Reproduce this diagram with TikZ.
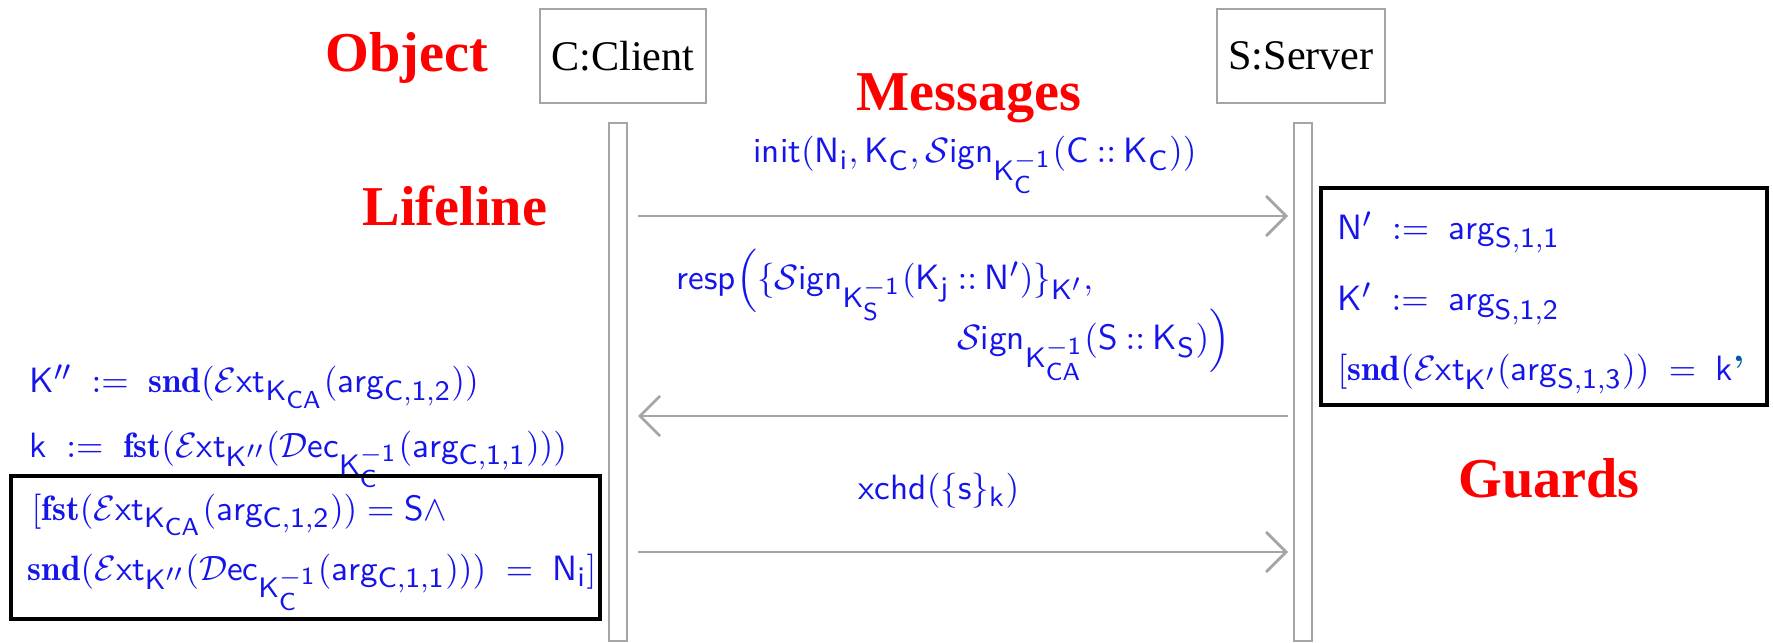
\documentclass[tikz,border=0pt]{standalone}
\usepackage{fontspec}
\usetikzlibrary{arrows.meta}
\newfontfamily\tms{Liberation Serif}
\DeclareMathSizes{10}{10}{8}{7}
\definecolor{linegray}{RGB}{165,165,165}
\definecolor{msgblue}{RGB}{20,20,235}
\definecolor{quoteblue}{RGB}{0,90,180}
\newcommand{\Sgn}{\mathcal{S}\mathsf{ign}}
\newcommand{\Ext}{\mathcal{E}\mathsf{xt}}
\newcommand{\Dec}{\mathcal{D}\mathsf{ec}}
\newcommand{\asgn}{\mathrel{\;{:}{=}\;}}
\newcommand{\dcol}{\mathbin{{:}{:}}}
\tikzset{
  tag/.style={text=red,font=\tms\bfseries\fontsize{16}{19}\selectfont,anchor=base},
  object/.style={draw=linegray,line width=0.6pt,minimum width=1.61cm,minimum height=0.94cm,
    font=\tms\fontsize{12}{14}\selectfont},
  lifeline/.style={draw=linegray,line width=0.6pt,minimum width=0.18cm,minimum height=5.17cm,inner sep=0pt},
  msg/.style={linegray,line width=0.8pt,-{Straight Barb[length=2mm,width=4mm]}},
  term/.style={text=msgblue,font=\fontsize{10}{12}\selectfont,inner sep=0pt},
  guard/.style={draw,line width=1pt},
}
\begin{document}
\begin{tikzpicture}[x=0.01cm,y=-0.01cm]
\useasboundingbox (0,0) rectangle (1773,643);
% objects with their lifelines
\node[object] (client) at (623,56) {C:Client};
\node[object] (server) at (1301,56) {S:Server};
\node[lifeline] (cbar) at (618,382) {};
\node[lifeline] (sbar) at (1303,382) {};

% captions
\node[tag] (tobj) at (407,72) {Object};
\node[tag] (tmsg) at (969,111) {Messages};
\node[tag] (tlife) at (455,226) {Lifeline};
\node[tag] (tguard) at (1549,497) {Guards};

% messages
\coordinate (m1a) at (638,216);
\coordinate (m1b) at (1288,216);
\coordinate (m2a) at (1288,416);
\coordinate (m2b) at (638,416);
\coordinate (m3a) at (638,552);
\coordinate (m3b) at (1288,552);
\draw[msg] (m1a) -- (m1b);
\draw[msg] (m2a) -- (m2b);
\draw[msg] (m3a) -- (m3b);

\node[term,anchor=base] (init) at (975,163)
  {$\mathsf{init(N_i,K_C,\Sgn_{K_C^{-1}}(C\dcol K_C))}$};
\node[term,anchor=base west] (resp1) at (676,290)
  {$\mathsf{resp\Bigl(\{\Sgn_{K_S^{-1}}(K_j\dcol N')\}_{K'},}$};
\node[term,anchor=base east] (resp2) at (1231,350)
  {$\mathsf{\Sgn_{K_{CA}^{-1}}(S\dcol K_S)\Bigr)}$};
\node[term,anchor=base] (xchd) at (939,499) {$\mathsf{xchd(\{s\}_k)}$};

% guards of the server
\draw[guard] (1321,188) rectangle (1767,405);
\node[term,anchor=base west] (sg1) at (1337,240) {$\mathsf{N'\asgn arg_{S,1,1}}$};
\node[term,anchor=base west] (sg2) at (1337,311) {$\mathsf{K'\asgn arg_{S,1,2}}$};
\node[term,anchor=base west] (sg3) at (1337,380)
  {$\mathsf{[\mathbf{snd}(\Ext_{K'}(arg_{S,1,3}))\;=\;k}${\color{quoteblue}\bfseries ’}};

% guards of the client
\node[term,anchor=base west] (cg1) at (29,393)
  {$\mathsf{K''\asgn\mathbf{snd}(\Ext_{K_{CA}}(arg_{C,1,2}))}$};
\node[term,anchor=base west] (cg2) at (29,457)
  {$\mathsf{k\asgn\mathbf{fst}(\Ext_{K''}(\Dec_{K_C^{-1}}(arg_{C,1,1})))}$};
\draw[guard] (11,476) rectangle (600,619);
\node[term,anchor=base west] (cg3) at (31,520)
  {$\mathsf{[\mathbf{fst}(\Ext_{K_{CA}}(arg_{C,1,2}))=S\wedge}$};
\node[term,anchor=base west] (cg4) at (27,580)
  {$\mathsf{\mathbf{snd}(\Ext_{K''}(\Dec_{K_C^{-1}}(arg_{C,1,1})))\;=\;N_i]}$};
\end{tikzpicture}
\end{document}
